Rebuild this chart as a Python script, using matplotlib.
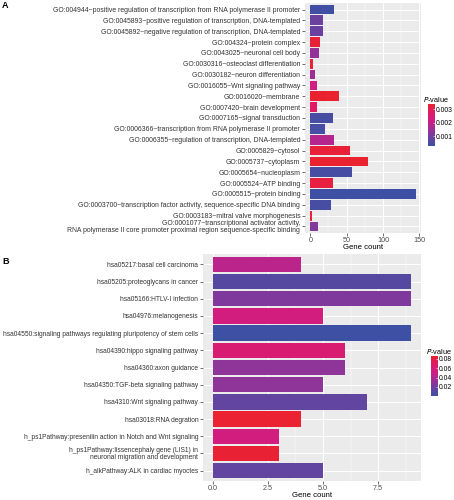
import matplotlib
matplotlib.use("Agg")
import matplotlib.pyplot as plt
from matplotlib.colors import LinearSegmentedColormap, Normalize
from matplotlib.cm import ScalarMappable
from matplotlib.ticker import MultipleLocator

plt.rcParams['font.family'] = ['Liberation Sans', 'DejaVu Sans']

# ---- panel A data (top to bottom) ----
go_terms = [
    "GO:004944~positive regulation of transcription from RNA polymerase II promoter",
    "GO:0045893~positive regulation of transcription, DNA-templated",
    "GO:0045892~negative regulation of transcription, DNA-templated",
    "GO:004324~protein complex",
    "GO:0043025~neuronal cell body",
    "GO:0030316~osteoclast differentiation",
    "GO:0030182~neuron differentiation",
    "GO:0016055~Wnt signaling pathway",
    "GO:0016020~membrane",
    "GO:0007420~brain development",
    "GO:0007165~signal transduction",
    "GO:0006366~transcription from RNA polymerase II promoter",
    "GO:0006355~regulation of transcription, DNA-templated",
    "GO:0005829~cytosol",
    "GO:0005737~cytoplasm",
    "GO:0005654~nucleoplasm",
    "GO:0005524~ATP binding",
    "GO:0005515~protein binding",
    "GO:0003700~transcription factor activity, sequence-specific DNA binding",
    "GO:0003183~mitral valve morphogenesis",
    "GO:0001077~transcriptional activator activity,\nRNA polymerase II core promoter proximal region sequence-specific binding",
]
go_counts = [33, 18, 18, 13, 12, 4, 7, 9, 40, 9, 31, 20, 33, 55, 79, 57, 31, 145, 28, 3, 11]
go_pvals = [0.0003, 0.0009, 0.0009, 0.0033, 0.0014, 0.0033, 0.0015, 0.0022, 0.0034, 0.0028,
            0.0004, 0.0004, 0.0018, 0.0033, 0.0034, 0.0004, 0.0032, 0.00026, 0.0004, 0.0033, 0.0012]
go_ticks = [0, 50, 100, 150]
go_cbar_ticks = [0.001, 0.002, 0.003]

# ---- panel B data (top to bottom) ----
kegg_terms = [
    "hsa05217:basal cell carcinoma",
    "hsa05205:proteoglycans in cancer",
    "hsa05166:HTLV-I infection",
    "hsa04976:melanogenesis",
    "hsa04550:signaling pathways regulating pluripotency of stem cells",
    "hsa04390:hippo signaling pathway",
    "hsa04360:axon guidance",
    "hsa04350:TGF-beta signaling pathway",
    "hsa4310:Wnt signaling pathway",
    "hsa03018:RNA degration",
    "h_ps1Pathway:presenilin action in Notch and Wnt signaling",
    "h_ps1Pathway:lissencephaly gene (LIS1) in\nneuronal migration and development",
    "h_alkPathway:ALK in cardiac myoctes",
]
kegg_counts = [4, 9, 9, 5, 9, 6, 6, 5, 7, 4, 3, 3, 5]
kegg_pvals = [0.045, 0.010, 0.025, 0.055, 0.001, 0.062, 0.030, 0.030, 0.015, 0.086, 0.055, 0.085, 0.015]
kegg_ticks = [0.0, 2.5, 5.0, 7.5]
kegg_cbar_ticks = [0.02, 0.04, 0.06, 0.08]

cmap = LinearSegmentedColormap.from_list(
    "bluered", ["#3D50A3", "#6A41A0", "#9E2E96", "#CF1D84", "#DF1B66", "#EA2230"])

W, H = 454, 500


def px_axes(fig, left, top, right, bottom):
    return fig.add_axes([left / W, 1 - bottom / H, (right - left) / W, (bottom - top) / H])


def draw_panel(ax, terms, counts, pvals, vmin, vmax, xticks, xlim, minor, fs):
    n = len(terms)
    ypos = list(range(n))[::-1]
    norm = Normalize(vmin=vmin, vmax=vmax)
    ax.barh(ypos, counts, height=0.9, color=[cmap(norm(p)) for p in pvals], zorder=3)
    ax.set_facecolor("#EBEBEB")
    ax.set_ylim(-0.6, n - 0.4)
    ax.set_xlim(*xlim)
    ax.set_yticks(ypos)
    ax.set_yticklabels(terms, fontsize=fs, color="#4D4D4D", linespacing=0.9)
    for t in ax.get_yticklabels():
        t.set_multialignment('right')
    ax.set_xticks(xticks)
    ax.xaxis.set_minor_locator(MultipleLocator(minor))
    ax.tick_params(axis='x', labelsize=5.2, colors="#333333", labelcolor="#4D4D4D",
                   length=2, width=0.5, pad=1.2)
    ax.tick_params(axis='y', colors="#333333", length=2, width=0.5, pad=1.5)
    ax.tick_params(which='minor', length=0)
    ax.grid(True, which='major', color='white', lw=0.7, zorder=0)
    ax.grid(True, which='minor', axis='x', color='white', lw=0.35, zorder=0)
    ax.set_axisbelow(True)
    for sp in ax.spines.values():
        sp.set_visible(False)
    ax.set_xlabel("Gene count", fontsize=5.6, labelpad=0, color="black")
    return norm


def draw_cbar(fig, norm, ticks, left, top, right, bottom, fmt):
    cax = px_axes(fig, left, top, right, bottom)
    cb = fig.colorbar(ScalarMappable(norm=norm, cmap=cmap), cax=cax)
    cb.outline.set_visible(False)
    cb.set_ticks(ticks)
    cb.set_ticklabels([fmt.format(t) for t in ticks])
    cax.tick_params(labelsize=4.9, length=1.5, width=0.4, color="white", direction='in',
                    pad=0.8, labelcolor="black")
    fig.text((left - 5) / W, 1 - (top - 5) / H, "$P$-value", fontsize=5.3, va='center', ha='left')
    return cb


fig = plt.figure(figsize=(W / 100, H / 100), dpi=100)

axA = px_axes(fig, 305, 3, 421, 233)
normA = draw_panel(axA, go_terms, go_counts, go_pvals, 0.00026, 0.0034,
                   go_ticks, (-7.25, 152.25), 25, 4.95)
draw_cbar(fig, normA, go_cbar_ticks, 428, 104, 435, 146, "{:.3f}")

axB = px_axes(fig, 203, 254, 421, 481)
normB = draw_panel(axB, kegg_terms, kegg_counts, kegg_pvals, 0.0007, 0.0864,
                   kegg_ticks, (-0.45, 9.45), 1.25, 4.75)
draw_cbar(fig, normB, kegg_cbar_ticks, 431, 356, 438, 396, "{:.2f}")

fig.text(2 / W, 1 - 6 / H, "A", fontsize=6.5, fontweight='bold', va='center')
fig.text(2 / W, 1 - 262 / H, "B", fontsize=6.5, fontweight='bold', va='center')

fig.savefig("out.png", dpi=100)
